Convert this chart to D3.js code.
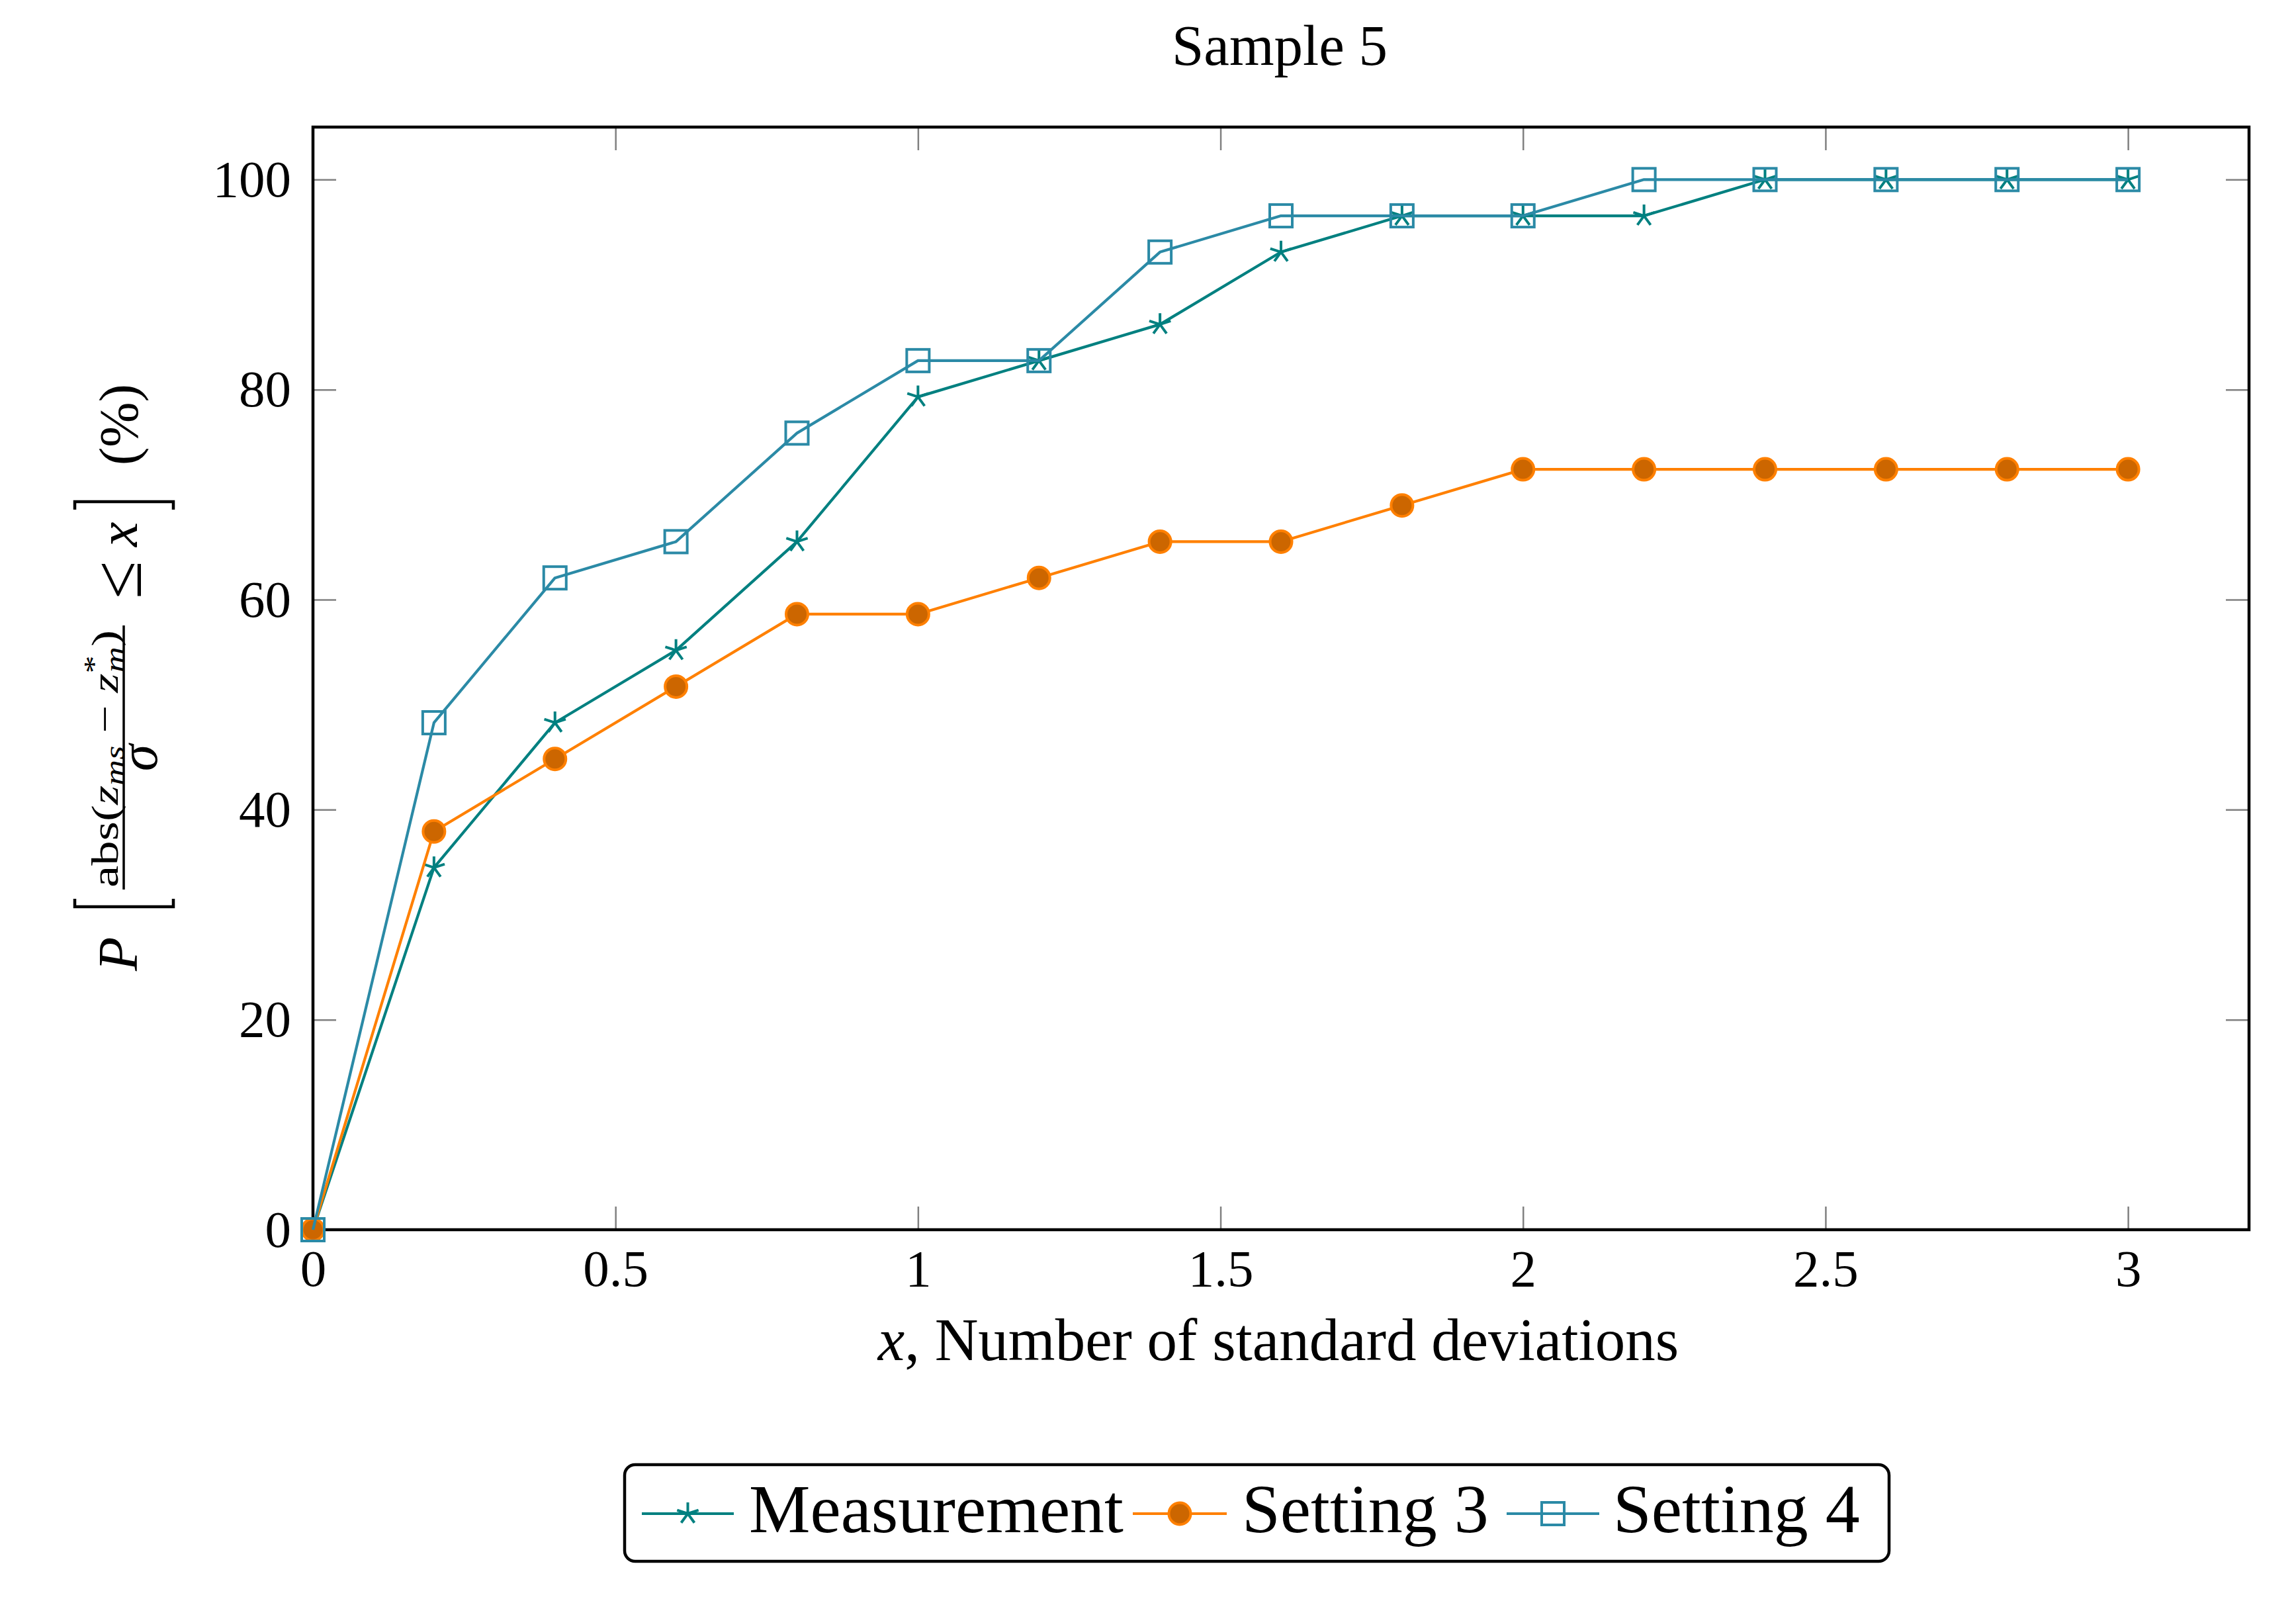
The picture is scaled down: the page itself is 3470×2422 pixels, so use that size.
<!DOCTYPE html>
<html>
<head>
<meta charset="utf-8">
<script src="https://cdn.jsdelivr.net/npm/d3@7"></script>
<style>
  body { margin: 0; background: #fff; }
  text { font-family: "Liberation Serif", "Times New Roman", serif; }
</style>
</head>
<body>
<svg id="chart"></svg>
<script>
// data
const xValues = [0, 0.2, 0.4, 0.6, 0.8, 1.0, 1.2, 1.4, 1.6, 1.8, 2.0, 2.2, 2.4, 2.6, 2.8, 3.0];
const measurement = [0, 34.48, 48.28, 55.17, 65.52, 79.31, 82.76, 86.21, 93.10, 96.55, 96.55, 96.55, 100, 100, 100, 100];
const setting3 = [0, 37.93, 44.83, 51.72, 58.62, 58.62, 62.07, 65.52, 65.52, 68.97, 72.41, 72.41, 72.41, 72.41, 72.41, 72.41];
const setting4 = [0, 48.28, 62.07, 65.52, 75.86, 82.76, 82.76, 93.10, 96.55, 96.55, 96.55, 100, 100, 100, 100, 100];
const seriesNames = ['Measurement', 'Setting 3', 'Setting 4'];
const xTicks = [0, 0.5, 1, 1.5, 2, 2.5, 3];
const yTicks = [0, 20, 40, 60, 80, 100];

const width = 3470, height = 2422;
const plotLeft = 473, plotRight = 3399, plotTop = 192, plotBottom = 1858;

const svg = d3.select('#chart')
    .attr('width', width)
    .attr('height', height);

svg.append('rect').attr('width', width).attr('height', height).attr('fill', '#fff');

const x = d3.scaleLinear().domain([0, 3.2]).range([plotLeft, plotRight]);
const y = d3.scaleLinear().domain([0, 105]).range([plotBottom, plotTop]);

// series styles
const styles = [
    { values: measurement, color: '#008080', mark: 'star' },
    { values: setting3, color: '#ff8000', fill: '#cc6600', mark: 'circle' },
    { values: setting4, color: '#2b8aa6', mark: 'square' }
];

// ticks on all four sides, pointing inward
function styleAxis(g) {
    g.select('.domain').remove();
    g.selectAll('.tick line').attr('stroke', '#808080').attr('stroke-width', 2.5);
    g.selectAll('.tick text').attr('fill', '#000').style('font-size', '79px')
        .style('font-family', '"Liberation Serif", serif');
}

svg.append('g')
    .attr('transform', `translate(0,${plotBottom})`)
    .call(d3.axisBottom(x).tickValues(xTicks).tickSizeInner(-35).tickSizeOuter(0)
        .tickPadding(29).tickFormat(d3.format('~g')))
    .call(styleAxis);

svg.append('g')
    .attr('transform', `translate(0,${plotTop})`)
    .call(d3.axisTop(x).tickValues(xTicks).tickSizeInner(-35).tickSizeOuter(0).tickFormat(''))
    .call(styleAxis);

svg.append('g')
    .attr('transform', `translate(${plotLeft},0)`)
    .call(d3.axisLeft(y).tickValues(yTicks).tickSizeInner(-35).tickSizeOuter(0).tickPadding(33))
    .call(styleAxis);

svg.append('g')
    .attr('transform', `translate(${plotRight},0)`)
    .call(d3.axisRight(y).tickValues(yTicks).tickSizeInner(-35).tickSizeOuter(0).tickFormat(''))
    .call(styleAxis);

// frame
svg.append('rect')
    .attr('x', plotLeft).attr('y', plotTop)
    .attr('width', plotRight - plotLeft).attr('height', plotBottom - plotTop)
    .attr('fill', 'none').attr('stroke', '#000').attr('stroke-width', 4.5);

// marker drawing helpers
function starPath(r) {
    const p = d3.path();
    [90, 18, -54, -126, 162].forEach(a => {
        const t = a * Math.PI / 180;
        p.moveTo(0, 0);
        p.lineTo(r * Math.cos(t), -r * Math.sin(t));
    });
    return p.toString();
}

function drawMarker(g, s, cx, cy) {
    if (s.mark === 'star') {
        g.append('path').attr('d', starPath(17))
            .attr('transform', `translate(${cx},${cy})`)
            .attr('fill', 'none').attr('stroke', s.color).attr('stroke-width', 4);
    } else if (s.mark === 'circle') {
        g.append('circle').attr('cx', cx).attr('cy', cy).attr('r', 16.5)
            .attr('fill', s.fill).attr('stroke', s.color).attr('stroke-width', 4);
    } else {
        g.append('rect').attr('x', cx - 17).attr('y', cy - 17)
            .attr('width', 34).attr('height', 34)
            .attr('fill', 'none').attr('stroke', s.color).attr('stroke-width', 4);
    }
}

const line = d3.line().x(d => x(d[0])).y(d => y(d[1]));

styles.forEach(s => {
    const pts = xValues.map((v, i) => [v, s.values[i]]);
    const g = svg.append('g');
    g.append('path').attr('d', line(pts))
        .attr('fill', 'none').attr('stroke', s.color).attr('stroke-width', 4.2)
        .attr('stroke-linejoin', 'round');
    pts.forEach(p => drawMarker(g, s, x(p[0]), y(p[1])));
});

// title
svg.append('text')
    .attr('x', 1934).attr('y', 98)
    .attr('text-anchor', 'middle')
    .style('font-size', '87px')
    .text('Sample 5');

// x label
const xl = svg.append('text')
    .attr('x', 1932).attr('y', 2055)
    .attr('text-anchor', 'middle')
    .style('font-size', '91px');
xl.append('tspan').style('font-style', 'italic').text('x');
xl.append('tspan').text(', Number of standard deviations');

// y label, built along the rotated baseline
const yl = svg.append('g').attr('transform', 'translate(207,1467) rotate(-90)');
yl.append('text').attr('x', 0).attr('y', 0)
    .style('font-size', '84px').style('font-style', 'italic').text('P');
yl.append('path').attr('d', 'M109,-94H97V55H109')
    .attr('fill', 'none').attr('stroke', '#000').attr('stroke-width', 4.5);

const num = yl.append('text').style('font-size', '58px');
num.append('tspan').text('abs(');
num.append('tspan').style('font-style', 'italic').text('z');
num.append('tspan').style('font-style', 'italic').style('font-size', '42px').attr('dy', 9).text('ms');
num.append('tspan').attr('dy', -9).text(' \u2212 ');
num.append('tspan').style('font-style', 'italic').text('z');
num.append('tspan').style('font-size', '42px').attr('dy', -22).text('*');
num.append('tspan').style('font-style', 'italic').style('font-size', '42px')
    .attr('dx', -20).attr('dy', 31).text('m');
num.append('tspan').attr('dy', -9).text(')');
const numW = num.node().getBBox().width;
num.attr('transform', `translate(126,-29) scale(${389 / numW},1)`);

yl.append('line').attr('x1', 123).attr('x2', 522).attr('y1', -20).attr('y2', -20)
    .attr('stroke', '#000').attr('stroke-width', 3.5);
yl.append('text').attr('x', 322).attr('y', 30).attr('text-anchor', 'middle')
    .style('font-size', '82px').style('font-style', 'italic').text('\u03c3');
yl.append('text').attr('x', 562).attr('y', 6)
    .style('font-size', '104px').text('\u2264');
yl.append('text').attr('x', 641).attr('y', 0)
    .style('font-size', '84px').style('font-style', 'italic').text('x');
yl.append('path').attr('d', 'M697,-94H709V55H697')
    .attr('fill', 'none').attr('stroke', '#000').attr('stroke-width', 4.5);
yl.append('text').attr('x', 764).attr('y', 0)
    .style('font-size', '82px').text('(%)');

// legend
const legend = svg.append('g');
legend.append('rect')
    .attr('x', 944).attr('y', 2213).attr('width', 1911).attr('height', 146)
    .attr('rx', 16).attr('ry', 16)
    .attr('fill', '#fff').attr('stroke', '#000').attr('stroke-width', 4.5);

const legendLayout = [
    { x1: 970, x2: 1109, tx: 1132 },
    { x1: 1712, x2: 1854, tx: 1877 },
    { x1: 2277, x2: 2417, tx: 2438 }
];
const legendY = 2287;
styles.forEach((s, i) => {
    const L = legendLayout[i];
    legend.append('line').attr('x1', L.x1).attr('x2', L.x2)
        .attr('y1', legendY).attr('y2', legendY)
        .attr('stroke', s.color).attr('stroke-width', 4.2);
    drawMarker(legend, s, (L.x1 + L.x2) / 2, legendY);
    legend.append('text').attr('x', L.tx).attr('y', 2315)
        .style('font-size', '104px').text(seriesNames[i]);
});
</script>
</body>
</html>
